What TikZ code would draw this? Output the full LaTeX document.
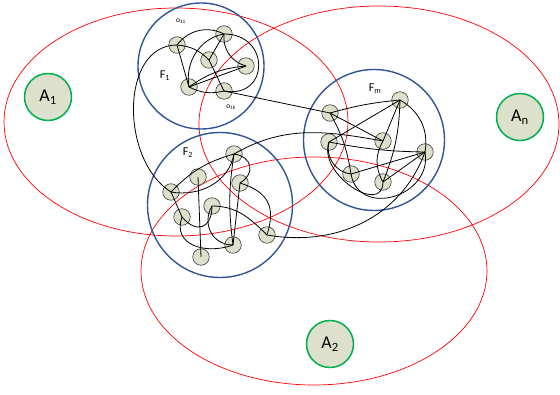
\documentclass[tikz,border=0pt]{standalone}
\usepackage{fontspec}
\setmainfont{Carlito}
\usetikzlibrary{positioning}
\definecolor{objfill}{RGB}{221,224,203}
\definecolor{agentgreen}{RGB}{0,176,80}
\definecolor{fedblue}{RGB}{47,85,151}
\tikzset{
  obj/.style={circle, draw=black!75, fill=objfill, minimum size=16.5pt, inner sep=0pt, line width=0.6pt},
  agent/.style={circle, draw=agentgreen, fill=objfill, line width=1.5pt, minimum size=47pt, inner sep=0pt,
    font=\fontsize{18}{20}\selectfont},
  fed/.style={draw=fedblue, line width=1.4pt},
  area/.style={draw=red, line width=0.7pt},
  link/.style={draw=black, line width=0.8pt},
  flabel/.style={font=\fontsize{12}{14}\selectfont, inner sep=0pt},
  olabel/.style={font=\fontsize{7.5}{8}\selectfont, inner sep=0pt}
}

\begin{document}
\begin{tikzpicture}[x=1pt,y=1pt]
  \useasboundingbox (0,0) rectangle (560,394);
  \fill[white] (0,0) rectangle (560,394);
  % areas of the agents
  \draw[area](176,272) ellipse[x radius=172pt, y radius=114pt];
  \draw[area](379,270) ellipse[x radius=180pt, y radius=118pt];
  \draw[area](314,123) ellipse[x radius=173pt, y radius=114pt];
  \node[agent] (A1) at (48,297) {A\textsubscript{1}};
  \node[agent] (An) at (520,277) {A\textsubscript{n}};
  \node[agent] (A2) at (330,50) {A\textsubscript{2}};
  % federations
  \draw[fed](201,328) circle[radius=63pt];
  \draw[fed](374,254) circle[radius=70.5pt];
  \draw[fed](220,189) circle[radius=72.5pt];
  \node[flabel] (F1) at (165,318) {F\textsubscript{1}};
  \node[flabel] (Fm) at (375,305) {F\textsubscript{m}};
  \node[flabel] (F2) at (188,241) {F\textsubscript{2}};
  \node[olabel] (o11) at (181,373) {o\textsubscript{11}};
  \node[olabel] (o1k) at (231,287) {o\textsubscript{1k}};
  % objects of F1
  \node[obj] (f1a) at (177,349) {};
  \node[obj] (f1b) at (224,360) {};
  \node[obj] (f1c) at (209,334) {};
  \node[obj] (f1d) at (246,328) {};
  \node[obj] (f1e) at (189,307) {};
  \node[obj] (f1f) at (224,303) {};
  % objects of Fm
  \node[obj] (fma) at (330,281) {};
  \node[obj] (fmb) at (400,294) {};
  \node[obj] (fmc) at (383,253) {};
  \node[obj] (fmd) at (329,252) {};
  \node[obj] (fme) at (425,242) {};
  \node[obj] (fmf) at (351,220) {};
  \node[obj] (fmg) at (383,212) {};
  % objects of F2
  \node[obj] (f2a) at (171,202) {};
  \node[obj] (f2b) at (198,217) {};
  \node[obj] (f2c) at (234,240) {};
  \node[obj] (f2d) at (240,211) {};
  \node[obj] (f2e) at (212,188) {};
  \node[obj] (f2f) at (182,177) {};
  \node[obj] (f2g) at (267,159) {};
  \node[obj] (f2h) at (233,149) {};
  \node[obj] (f2i) at (201,137) {};
  % links in F1
  \draw[link](f1a.center)--(f1e.center);
  \draw[link](f1a.center) to[bend left=20] (f1c.center);
  \draw[link](f1a.center) to[bend left=40] (f1b.center);
  \draw[link](f1b.center)--(f1c.center);
  \draw[link](f1c.center)--(f1f.center);
  \draw[link](f1b.center) to[bend right=40] (f1d.center);
  \draw[link](f1e.center)--(f1d.center);
  \draw[link](f1e.center) to[bend left=15] (f1d.center);
  \draw[link](f1b.center) to[out=0, in=-10, looseness=2.1] (f1f.center);
  \draw[link](f1e.center) to[out=100, in=190] (f1b.center);
  \draw[link](f1e.center) to[bend right=20] (f1f.center);
  % links in Fm
  \draw[link](fma.center) to[bend left=5] (fmb.center);
  \draw[link](fma.center)--(fmc.center);
  \draw[link](fmb.center)--(fmd.center);
  \draw[link](fmb.center)--(fmc.center);
  \draw[link](fmb.center) to[bend left=10] (fmg.center);
  \draw[link](fmb.center) to[out=-30, in=80] (fme.center);
  \draw[link](fmd.center) to[bend right=5] (fme.center);
  \draw[link](fmf.center)--(fme.center);
  \draw[link](fmg.center)--(fme.center);
  \draw[link](fma.center) to[bend left=10] (fmf.center);
  \draw[link](fmd.center) to[bend right=50] (fmf.center);
  \draw[link](fmc.center) to[bend right=30] (fmg.center);
  \draw[link](fmf.center) to[out=-80, in=-80, looseness=1.5] (fme.center);
  \draw[link](fmd.center) to[out=-110, in=-90, looseness=1.3] (fmg.center);
  % links in F2
  \draw[link](f2b.center)--(f2i.center);
  \draw[link](f2a.center) to[bend left=15] (f2c.center);
  \draw[link](f2a.center) to[out=-10, in=-100] (f2c.center);
  \draw[link](f2a.center)--(f2f.center);
  \draw[link](f2c.center) to[bend left=70, looseness=1.6] (f2d.center);
  \draw[link](f2c.center) to[bend right=8] (f2h.center);
  \draw[link](f2d.center)--(f2h.center);
  \draw[link](f2d.center) to[bend left=45, looseness=1.3] (f2g.center);
  \draw[link](f2f.center) to[bend right=70, looseness=1.8] (f2e.center);
  \draw[link](f2f.center) to[out=-110, in=-160, looseness=1.3] (f2h.center);
  \draw[link](f2e.center) to[out=-120, in=180, looseness=1.2] (f2h.center);
  \draw[link](f2e.center) to[out=0, in=135] (f2g.center);
  % links between federations
  \draw[link](f1f.center)--(fma.center);
  \draw[link](f1a.center) .. controls (120,349) and (120,234) .. (f2a.center);
  \draw[link](f2c.center) to[out=30, in=170] (fmc.center);
  \draw[link](fme.center) to[out=-110, in=-10] (f2g.center);
\end{tikzpicture}
\end{document}
